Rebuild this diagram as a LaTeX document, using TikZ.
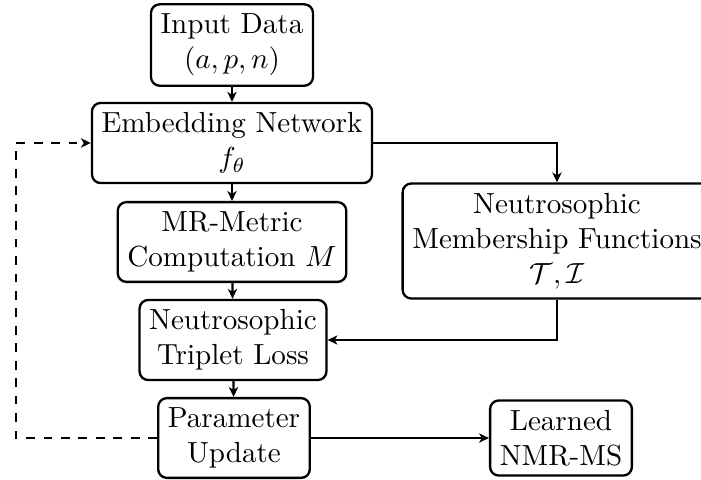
\documentclass[tikz,border=0pt]{standalone}
\usetikzlibrary{arrows.meta}
\begin{document}
\begin{tikzpicture}[x=0.34376pt,y=-0.34376pt,
  >={Stealth[length=3.4pt,width=3.2pt,inset=1pt]},
  box/.style={draw,thick,rounded corners=3pt,align=center,inner sep=3.33pt},
  conn/.style={thick,->},
  fb/.style={thick,->,dashed}]
\useasboundingbox (0,0) rectangle (701,479);
\node[box] (inp) at (232,45) {Input Data\\$(a,p,n)$};
\node[box] (emb) at (232,143) {Embedding Network\\$f_\theta$};
\node[box] (mr) at (232,242) {MR-Metric\\Computation $M$};
\node[box] (ntl) at (233,340) {Neutrosophic\\Triplet Loss};
\node[box] (par) at (234,438) {Parameter\\Update};
\node[box] (lrn) at (561,438) {Learned\\NMR-MS};
\node[box] (nmf) at (557,241) {Neutrosophic\\Membership Functions\\$\mathcal{T},\mathcal{I}$};
\coordinate (fbl) at (16,438);
\coordinate (fbu) at (16,143);
\draw[conn] (inp) -- (emb);
\draw[conn] (emb) -- (mr);
\draw[conn] (mr) -- (ntl);
\draw[conn] (ntl) -- (par);
\draw[conn] (par) -- (lrn);
\draw[conn] (emb.east) -| (nmf.north);
\draw[conn] (nmf.south) |- (ntl.east);
\draw[fb] (par.west) -- (fbl) -- (fbu) -- (emb.west);
\end{tikzpicture}
\end{document}
